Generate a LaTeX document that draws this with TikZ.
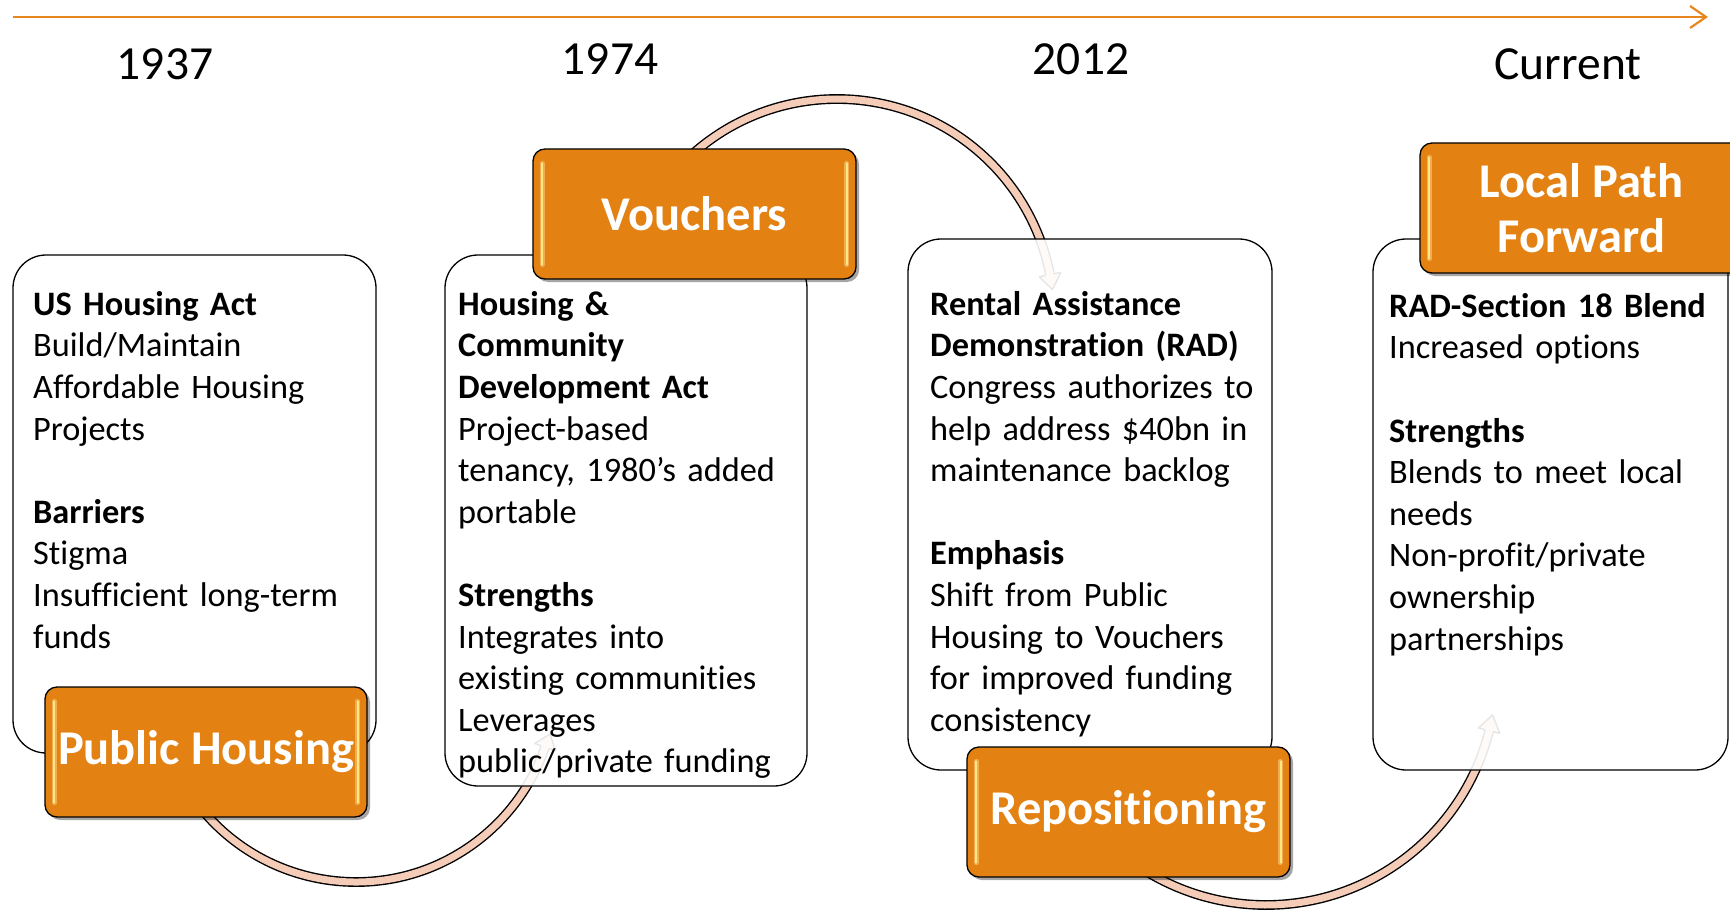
\documentclass[tikz,border=0pt]{standalone}
\usepackage{fontspec}
\setmainfont{Carlito}[Ligatures=NoCommon]
\usetikzlibrary{calc,shadows,arrows.meta}
\definecolor{orng}{RGB}{227,129,18}
\definecolor{toparrow}{RGB}{232,134,30}
\definecolor{peach}{RGB}{244,204,184}
\definecolor{hilite}{RGB}{255,232,130}
\definecolor{halo}{RGB}{242,172,82}
\tikzset{
 wbox/.style={draw=black, line width=1.3pt, fill=white, fill opacity=0.9, text opacity=1, rounded corners=33pt, inner sep=0pt},
 obox/.style={draw=black, line width=1.3pt, fill=orng, rounded corners=12pt, minimum width=323pt, minimum height=130pt, inner sep=0pt, text=white, font=\fontsize{48.5}{55}\selectfont\bfseries, align=center, drop shadow={shadow xshift=3pt, shadow yshift=-3pt, opacity=0.35, fill=black}},
 arcline/.style={draw=black, line width=1.4pt, double=peach, double distance=7pt},
 head/.style={fill=peach, draw=black, line width=1.4pt, line join=round},
 body/.style={anchor=north west, inner sep=0pt, align=left, font=\fontsize{34.3}{41.6}\selectfont, text width=420pt},
 year/.style={anchor=base, inner sep=0pt, font=\fontsize{47.5}{50}\selectfont},
}
\newcommand\oshine[1]{%
 \draw[halo, line width=5pt, line cap=round] ($(#1.north west)+(10,15)$) -- ($(#1.south west)+(10,-15)$);
 \draw[hilite, line width=2pt, line cap=round] ($(#1.north west)+(10,15)$) -- ($(#1.south west)+(10,-15)$);
 \draw[halo, line width=5pt, line cap=round] ($(#1.north east)+(-10,15)$) -- ($(#1.south east)+(-10,-15)$);
 \draw[hilite, line width=2pt, line cap=round] ($(#1.north east)+(-10,15)$) -- ($(#1.south east)+(-10,-15)$);
}
\begin{document}
\begin{tikzpicture}[x=1pt,y=-1pt]
\useasboundingbox (0,0) rectangle (1730,915);
\clip (0,0) rectangle (1730,915);
% timeline
\coordinate (ta) at (13,17);
\coordinate (tb) at (1708,17);
\draw[toparrow, line width=2.2pt, -{Straight Barb[length=16pt,width=22pt]}] (ta) -- (tb);
\node[year] (y1) at (165,80) {1937};
\node[year] (y2) at (610,75) {1974};
\node[year] (y3) at (1081,75) {2012};
\node[year] (y4) at (1568,80) {Current};
% curved arrows
\coordinate (c1) at (356,682);
\draw[arcline] ($(c1)+(145:200)$) arc[start angle=145, end angle=19, radius=200];
\filldraw[head] ($(c1)+(19:195.8)$) -- ($(c1)+(19:189)$) -- ($(c1)+(15:201)$) -- ($(c1)+(19:211)$) -- ($(c1)+(19:204.2)$);
\coordinate (c2) at (837,316);
\draw[arcline] ($(c2)+(-135:217)$) arc[start angle=-135, end angle=-11, radius=217];
\filldraw[head] ($(c2)+(-11:212.8)$) -- ($(c2)+(-11:206)$) -- ($(c2)+(-7:217)$) -- ($(c2)+(-11:228)$) -- ($(c2)+(-11:221.2)$);
\coordinate (c3) at (1266,675);
\draw[arcline] ($(c3)+(125:230)$) arc[start angle=125, end angle=14, radius=230];
\filldraw[head] ($(c3)+(14:225.8)$) -- ($(c3)+(14:219)$) -- ($(c3)+(10:230)$) -- ($(c3)+(14:241)$) -- ($(c3)+(14:234.2)$);
% white boxes
\node[wbox, minimum width=363pt, minimum height=498pt] (b1) at (194.5,504) {};
\node[wbox, minimum width=362pt, minimum height=531pt] (b2) at (626,520.5) {};
\node[wbox, minimum width=364pt, minimum height=531pt] (b3) at (1090,504.5) {};
\node[wbox, minimum width=355pt, minimum height=531pt] (b4) at (1550.5,504.5) {};
% texts
\node[body] (t1) at (33,285) {\rule{0pt}{30pt}\textbf{US Housing Act}\\ Build/Maintain\\ Affordable Housing\\ Projects\\ \mbox{}\\ \textbf{Barriers}\\ Stigma\\ Insufficient long-term\\ funds};
\node[body] (t2) at (458,285) {\rule{0pt}{30pt}\textbf{Housing \&}\\ \textbf{Community}\\ \textbf{Development Act}\\ Project-based\\ tenancy, 1980’s added\\ portable\\ \mbox{}\\ \textbf{Strengths}\\ Integrates into\\ existing communities\\ Leverages\\ public/private funding};
\node[body] (t3) at (930,285) {\rule{0pt}{30pt}\textbf{Rental Assistance}\\ \textbf{Demonstration (RAD)}\\ Congress authorizes to\\ help address \$40bn in\\ maintenance backlog\\ \mbox{}\\ \textbf{Emphasis}\\ Shift from Public\\ Housing to Vouchers\\ for improved funding\\ consistency};
\node[body] (t4) at (1389,287) {\rule{0pt}{30pt}\textbf{RAD-Section 18 Blend}\\ Increased options\\ \mbox{}\\ \textbf{Strengths}\\ Blends to meet local\\ needs\\ Non-profit/private\\ ownership\\ partnerships};
% orange boxes
\node[obox, minimum width=322pt] (ph) at (206,752) {Public Housing};
\oshine{ph}
\node[obox] (vo) at (694.5,214) {Vouchers};
\oshine{vo}
\node[obox] (re) at (1128.5,812) {Repositioning};
\oshine{re}
\node[obox] (lp) at (1581.5,208) {Local Path\\Forward};
\oshine{lp}
\end{tikzpicture}
\end{document}
